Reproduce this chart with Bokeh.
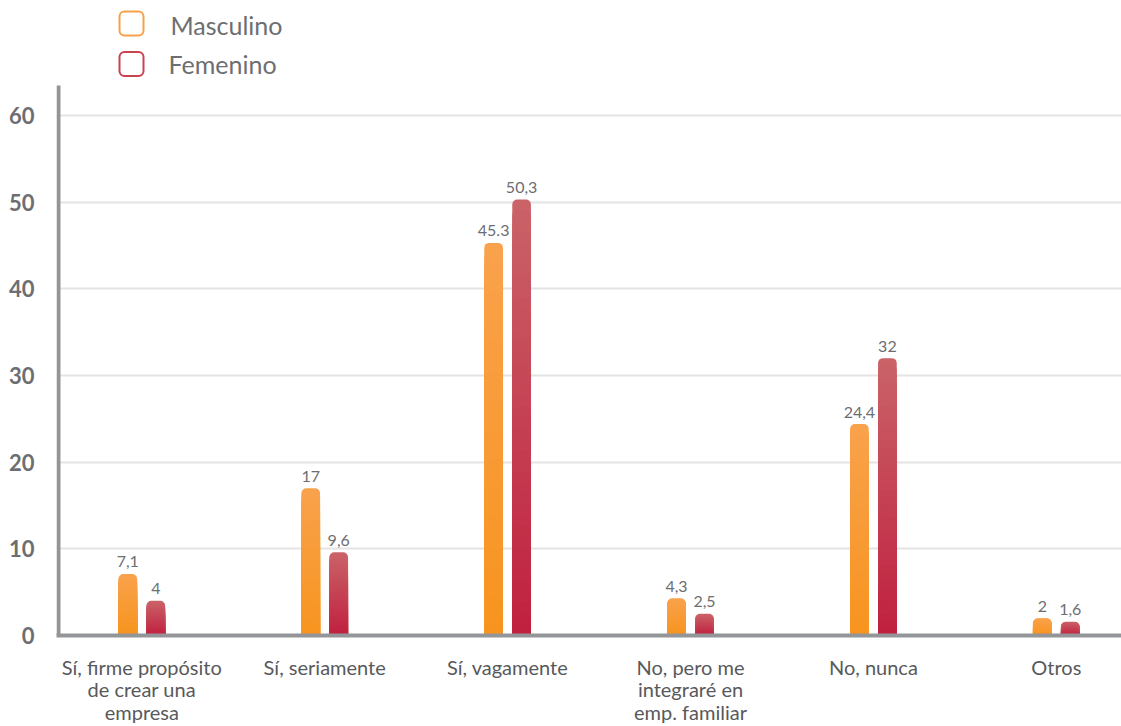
from bokeh.plotting import figure
from bokeh.models import Range1d, FixedTicker
from bokeh.core.properties import value
from bokeh.embed import file_html
from bokeh.resources import INLINE

categories = ["Sí, firme propósito\nde crear una\nempresa", "Sí, seriamente", "Sí, vagamente",
              "No, pero me\nintegraré en\nemp. familiar", "No, nunca", "Otros"]
masculino = [7.1, 17, 45.3, 4.3, 24.4, 2]
femenino = [4, 9.6, 50.3, 2.5, 32, 1.6]
masc_labels = ["7,1", "17", "45.3", "4,3", "24,4", "2"]
fem_labels = ["4", "9,6", "50,3", "2,5", "32", "1,6"]
series_names = ["Masculino", "Femenino"]
y_ticks = [0, 10, 20, 30, 40, 50, 60]

ORANGE_TOP, ORANGE_BOT = "#f9a24c", "#f7941e"
RED_TOP, RED_BOT = "#ca6268", "#c01f3e"
GRAY_TXT = "#6d6e71"
AXIS_GRAY = "#939598"
FONT = "Lato"


def hex2rgb(h):
    h = h.lstrip("#")
    return tuple(int(h[i:i + 2], 16) for i in (0, 2, 4))


def mix(c_bot, c_top, f):
    a, b = hex2rgb(c_bot), hex2rgb(c_top)
    return "#%02x%02x%02x" % tuple(int(round(a[i] + (b[i] - a[i]) * f)) for i in range(3))


# ---- layout geometry (page pixels) ----
W, H = 1121, 726
FRAME_L, FRAME_B = 56, 635
X0_PX, X_STEP = 141.3, 182.9        # first category centre, category spacing
Y_STEP = 8.667                      # px per unit
AXIS_TOP_PX = 85


def px2x(px):
    return (px - X0_PX) / X_STEP


def px2y(py):
    return (FRAME_B - py) / Y_STEP


n = len(categories)
xs = list(range(n))
off = 0.0765
bw = 0.102

p = figure(width=W, height=H, x_range=Range1d(px2x(FRAME_L), px2x(W)),
           y_range=Range1d(0, px2y(0)),
           output_backend="svg", toolbar_location=None,
           min_border_left=FRAME_L, min_border_right=0, min_border_top=0,
           min_border_bottom=H - FRAME_B)
p.outline_line_color = None
p.xgrid.visible = False
p.ygrid.grid_line_color = "#e4e4e4"
p.ygrid.grid_line_width = 2
p.ygrid.ticker = FixedTicker(ticks=y_ticks)

# y axis line (drawn as a segment so it stops below the legend)
p.segment(x0=[px2x(FRAME_L + 2)], y0=[0], x1=[px2x(FRAME_L + 2)], y1=[px2y(AXIS_TOP_PX)],
          line_color=AXIS_GRAY, line_width=4)

# bars with vertical gradient (stacked overlapping slices, tallest first)
N = 40
for vals, dx, ctop, cbot in [(masculino, -off, ORANGE_TOP, ORANGE_BOT),
                             (femenino, off, RED_TOP, RED_BOT)]:
    bx, btop, bcol = [], [], []
    for k in range(N, 0, -1):
        f = k / N
        for i, v in enumerate(vals):
            bx.append(xs[i] + dx)
            btop.append(v * f)
            bcol.append(mix(cbot, ctop, f))
    p.vbar(x=bx, top=btop, bottom=0, width=bw, fill_color=bcol, line_color=None,
           border_radius=[5, 5, 0, 0])

p.text(x=[x - off for x in xs], y=masculino, text=masc_labels, text_align="center",
       text_baseline="alphabetic", y_offset=-12, text_font=value(FONT),
       text_font_size="16px", text_color=GRAY_TXT)
p.text(x=[x + off for x in xs], y=femenino, text=fem_labels, text_align="center",
       text_baseline="alphabetic", y_offset=-12, text_font=value(FONT),
       text_font_size="16px", text_color=GRAY_TXT)

# legend (top-left)
leg_cols = ["#f8a04a", "#c9434f"]
leg_box = [(131, 23), (131, 63.5)]
leg_txt = [(170, 24), (168, 63)]
p.rect(x=[px2x(bx_) for bx_, _ in leg_box], y=[px2y(by_) for _, by_ in leg_box],
       width=24, height=24, width_units="screen", height_units="screen",
       fill_color="white", line_color=leg_cols, line_width=2, border_radius=5)
p.text(x=[px2x(tx) for tx, _ in leg_txt], y=[px2y(ty) for _, ty in leg_txt],
       text=series_names, text_font=value(FONT), text_font_size="25px",
       text_color=GRAY_TXT, text_baseline="middle", text_align="left")

p.yaxis.ticker = FixedTicker(ticks=y_ticks)
p.yaxis.axis_line_color = None
p.yaxis.major_tick_line_color = None
p.yaxis.minor_tick_line_color = None
p.yaxis.major_label_standoff = 16
p.yaxis.major_label_text_font = FONT
p.yaxis.major_label_text_font_style = "bold"
p.yaxis.major_label_text_font_size = "22px"
p.yaxis.major_label_text_color = GRAY_TXT

p.xaxis.ticker = FixedTicker(ticks=xs)
p.xaxis.major_label_overrides = {x: c for x, c in zip(xs, categories)}
p.xaxis.axis_line_width = 4
p.xaxis.axis_line_color = AXIS_GRAY
p.xaxis.major_tick_line_color = None
p.xaxis.minor_tick_line_color = None
p.xaxis.major_label_standoff = 13
p.xaxis.major_label_text_font = FONT
p.xaxis.major_label_text_font_size = "20px"
p.xaxis.major_label_text_line_height = 0.94
p.xaxis.major_label_text_color = "#58595b"

open("out.html", "w").write(file_html(p, INLINE))
